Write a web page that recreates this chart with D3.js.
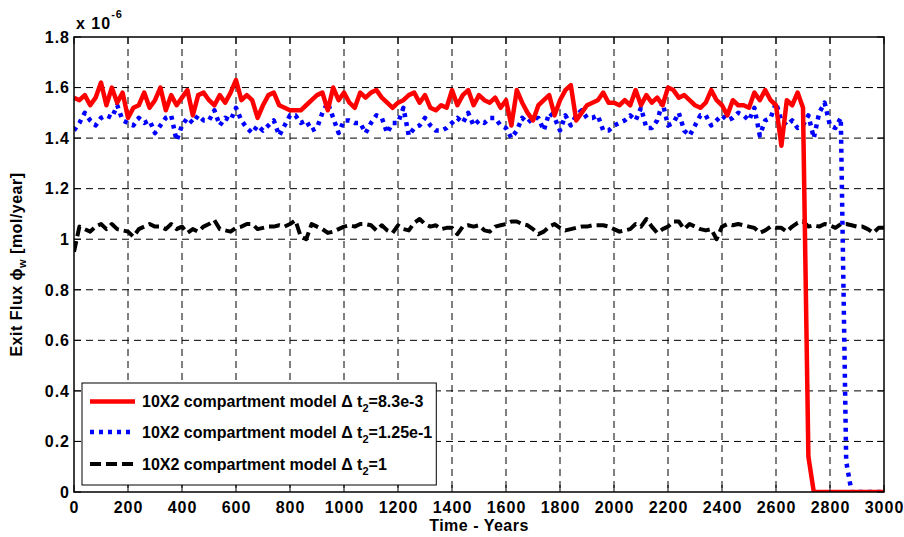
<!DOCTYPE html>
<html>
<head>
<meta charset="utf-8">
<script src="https://cdn.jsdelivr.net/npm/d3@7"></script>
<style>
  body { margin: 0; background: #fff; }
  svg { display: block; font-family: "Liberation Sans", Arial, sans-serif; font-weight: bold; }
</style>
</head>
<body>
<div id="chart"></div>
<script>
// time grid (years), values in units of 1e-6 mol/year
const years = d3.range(0, 3001, 20);

const fluxFine = [
  1.56, 1.55, 1.57, 1.53, 1.56, 1.62, 1.53, 1.60, 1.54, 1.58,
  1.48, 1.52, 1.53, 1.58, 1.52, 1.55, 1.60, 1.51, 1.57, 1.53,
  1.56, 1.59, 1.49, 1.57, 1.58, 1.55, 1.53, 1.57, 1.54, 1.58,
  1.63, 1.55, 1.57, 1.55, 1.48, 1.53, 1.57, 1.58, 1.53, 1.52,
  1.51, 1.51, 1.51, 1.53, 1.55, 1.57, 1.58, 1.51, 1.60, 1.55,
  1.58, 1.54, 1.52, 1.58, 1.56, 1.58, 1.59, 1.56, 1.54, 1.52,
  1.54, 1.55, 1.57, 1.58, 1.54, 1.57, 1.52, 1.51, 1.53, 1.52,
  1.59, 1.53, 1.57, 1.59, 1.53, 1.57, 1.55, 1.54, 1.56, 1.52,
  1.55, 1.45, 1.59, 1.54, 1.50, 1.47, 1.53, 1.55, 1.57, 1.49,
  1.55, 1.59, 1.61, 1.47, 1.50, 1.53, 1.54, 1.55, 1.58, 1.54,
  1.54, 1.53, 1.55, 1.53, 1.59, 1.53, 1.57, 1.54, 1.56, 1.53,
  1.60, 1.59, 1.56, 1.57, 1.55, 1.53, 1.52, 1.54, 1.59, 1.55,
  1.53, 1.49, 1.55, 1.53, 1.53, 1.52, 1.58, 1.55, 1.59, 1.55,
  1.53, 1.37, 1.55, 1.53, 1.58, 1.52, 0.14, 0, 0, 0,
  0, 0, 0, 0, 0, 0, 0, 0, 0, 0,
  0
];

const fluxMid = [
  1.43, 1.46, 1.50, 1.47, 1.45, 1.48, 1.49, 1.48, 1.53, 1.47,
  1.46, 1.45, 1.48, 1.46, 1.47, 1.42, 1.45, 1.48, 1.49, 1.39,
  1.45, 1.48, 1.46, 1.49, 1.47, 1.47, 1.51, 1.45, 1.48, 1.47,
  1.52, 1.47, 1.44, 1.42, 1.45, 1.43, 1.45, 1.47, 1.41, 1.45,
  1.49, 1.49, 1.46, 1.47, 1.43, 1.44, 1.50, 1.54, 1.48, 1.42,
  1.47, 1.47, 1.46, 1.46, 1.42, 1.46, 1.49, 1.48, 1.42, 1.46,
  1.46, 1.52, 1.41, 1.44, 1.45, 1.48, 1.45, 1.43, 1.43, 1.44,
  1.46, 1.48, 1.46, 1.50, 1.45, 1.47, 1.46, 1.48, 1.48, 1.45,
  1.44, 1.40, 1.43, 1.48, 1.46, 1.48, 1.48, 1.43, 1.50, 1.48,
  1.43, 1.49, 1.45, 1.49, 1.51, 1.48, 1.48, 1.49, 1.43, 1.43,
  1.45, 1.46, 1.47, 1.49, 1.47, 1.52, 1.44, 1.44, 1.47, 1.54,
  1.45, 1.46, 1.50, 1.43, 1.41, 1.45, 1.49, 1.49, 1.45, 1.47,
  1.49, 1.47, 1.48, 1.50, 1.49, 1.47, 1.52, 1.41, 1.47, 1.48,
  1.54, 1.47, 1.45, 1.47, 1.44, 1.45, 1.49, 1.40, 1.50, 1.54,
  1.45, 1.44, 1.48, 0.12, 0, 0, 0, 0, 0, 0,
  0
];

const fluxCoarse = [
  0.95, 1.05, 1.04, 1.03, 1.05, 1.06, 1.04, 1.06, 1.04, 1.035,
  1.03, 1.01, 1.04, 1.05, 1.06, 1.05, 1.05, 1.04, 1.06, 1.04,
  1.05, 1.025, 1.04, 1.03, 1.05, 1.06, 1.075, 1.04, 1.035, 1.03,
  1.045, 1.05, 1.06, 1.06, 1.04, 1.045, 1.05, 1.05, 1.055, 1.05,
  1.06, 1.075, 1.01, 1.00, 1.06, 1.05, 1.04, 1.025, 1.03, 1.04,
  1.05, 1.055, 1.05, 1.06, 1.06, 1.055, 1.035, 1.055, 1.035, 1.025,
  1.055, 1.04, 1.035, 1.065, 1.08, 1.06, 1.05, 1.055, 1.04, 1.045,
  1.045, 1.02, 1.05, 1.055, 1.05, 1.055, 1.035, 1.03, 1.05, 1.055,
  1.06, 1.07, 1.07, 1.06, 1.055, 1.04, 1.02, 1.03, 1.05, 1.06,
  1.045, 1.035, 1.04, 1.045, 1.05, 1.05, 1.055, 1.055, 1.055, 1.05,
  1.04, 1.03, 1.035, 1.04, 1.06, 1.05, 1.08, 1.05, 1.025, 1.04,
  1.05, 1.07, 1.07, 1.04, 1.06, 1.05, 1.04, 1.035, 1.04, 1.00,
  1.05, 1.06, 1.055, 1.06, 1.055, 1.05, 1.045, 1.025, 1.035, 1.05,
  1.045, 1.045, 1.03, 1.05, 1.065, 1.07, 1.05, 1.055, 1.05, 1.06,
  1.055, 1.045, 1.06, 1.06, 1.055, 1.05, 1.05, 1.04, 1.025, 1.045,
  1.045
];

const xTicks = d3.range(0, 3001, 200);
const yTicks = [0, 0.2, 0.4, 0.6, 0.8, 1, 1.2, 1.4, 1.6, 1.8];
const legendLabels = [
  { pre: "10X2 compartment model \u0394 t", sub: "2", post: "=8.3e-3" },
  { pre: "10X2 compartment model \u0394 t", sub: "2", post: "=1.25e-1" },
  { pre: "10X2 compartment model \u0394 t", sub: "2", post: "=1" }
];

const W = 904, H = 537;
const margin = { top: 37, right: 20, bottom: 45, left: 74 };
const iw = 810, ih = 455;

const svg = d3.select("#chart").append("svg")
  .attr("width", W)
  .attr("height", H);

const x = d3.scaleLinear().domain([0, 3000]).range([0, iw]);
const y = d3.scaleLinear().domain([0, 1.8]).range([ih, 0]);

const g = svg.append("g").attr("transform", `translate(${margin.left},${margin.top})`);

g.append("defs").append("clipPath").attr("id", "clip")
  .append("rect").attr("width", iw).attr("height", ih);

// grid
g.selectAll("line.vgrid")
  .data(xTicks.slice(1, -1))
  .enter().append("line")
  .attr("x1", (d) => x(d)).attr("x2", (d) => x(d))
  .attr("y1", 0).attr("y2", ih)
  .attr("stroke", "#000").attr("stroke-width", 1)
  .attr("stroke-dasharray", "7,5");

g.selectAll("line.hgrid")
  .data(yTicks.slice(1, -1))
  .enter().append("line")
  .attr("x1", 0).attr("x2", iw)
  .attr("y1", (d) => y(d)).attr("y2", (d) => y(d))
  .attr("stroke", "#000").attr("stroke-width", 1)
  .attr("stroke-dasharray", "7,5");

// series
const series = [
  { vals: fluxCoarse, color: "#000", dash: "11,5", width: 4 },
  { vals: fluxMid, color: "#0000ff", dash: "4,5", width: 4.5 },
  { vals: fluxFine, color: "#ff0000", dash: null, width: 4.5 }
];

const line = d3.line()
  .x((d) => x(d[0]))
  .y((d) => y(d[1]));

series.forEach((s) => {
  g.append("path")
    .datum(years.map((yr, i) => [yr, s.vals[i]]))
    .attr("clip-path", "url(#clip)")
    .attr("fill", "none")
    .attr("stroke", s.color)
    .attr("stroke-width", s.width)
    .attr("stroke-linejoin", "round")
    .attr("stroke-dasharray", s.dash)
    .attr("d", line);
});

// axes box
g.append("rect")
  .attr("width", iw).attr("height", ih)
  .attr("fill", "none").attr("stroke", "#000").attr("stroke-width", 1.5);

// ticks (inward, all four sides)
const tl = 7;
xTicks.forEach((t) => {
  g.append("line").attr("x1", x(t)).attr("x2", x(t)).attr("y1", ih).attr("y2", ih - tl).attr("stroke", "#000");
  g.append("line").attr("x1", x(t)).attr("x2", x(t)).attr("y1", 0).attr("y2", tl).attr("stroke", "#000");
});
yTicks.forEach((t) => {
  g.append("line").attr("x1", 0).attr("x2", tl).attr("y1", y(t)).attr("y2", y(t)).attr("stroke", "#000");
  g.append("line").attr("x1", iw).attr("x2", iw - tl).attr("y1", y(t)).attr("y2", y(t)).attr("stroke", "#000");
});

// tick labels
g.selectAll("text.xt")
  .data(xTicks)
  .enter().append("text")
  .attr("x", (d) => x(d) + 0.5)
  .attr("y", ih + 21)
  .attr("text-anchor", "middle")
  .style("font-size", "16px")
  .style("letter-spacing", "1px")
  .text((d) => d);

g.selectAll("text.yt")
  .data(yTicks)
  .enter().append("text")
  .attr("x", -4)
  .attr("y", (d) => y(d))
  .attr("dy", "0.36em")
  .attr("text-anchor", "end")
  .style("font-size", "16px")
  .style("letter-spacing", "1px")
  .text((d) => (Number.isInteger(d) ? d : d.toFixed(1)));

// exponent
const ex = svg.append("text").attr("x", 76).attr("y", 29)
  .style("font-size", "16px").style("letter-spacing", "1px");
ex.append("tspan").text("x 10");
ex.append("tspan").attr("dy", -11).style("font-size", "11px").text("-6");

// axis labels
svg.append("text")
  .attr("x", margin.left + iw / 2)
  .attr("y", 531)
  .attr("text-anchor", "middle")
  .style("font-size", "16px")
  .style("letter-spacing", "0.5px")
  .text("Time - Years");

const yl = svg.append("text")
  .attr("transform", `translate(22,${margin.top + ih / 2}) rotate(-90)`)
  .attr("text-anchor", "middle")
  .style("font-size", "16px")
  .style("letter-spacing", "0.5px");
yl.append("tspan").text("Exit Flux \u03d5");
yl.append("tspan").attr("dy", 4).style("font-size", "11px").text("w");
yl.append("tspan").attr("dy", -4).text(" [mol/year]");

// legend
const lg = g.append("g").attr("transform", "translate(8,346)");
const lgBox = lg.append("rect").attr("fill", "#fff").attr("stroke", "#000").attr("stroke-width", 1);
const rowY = [18.5, 49, 81];
legendLabels.forEach((lab, i) => {
  const s = series[2 - i];
  lg.append("line")
    .attr("x1", 8).attr("x2", 53)
    .attr("y1", rowY[i]).attr("y2", rowY[i])
    .attr("stroke", s.color)
    .attr("stroke-width", s.width)
    .attr("stroke-dasharray", s.dash);
  const t = lg.append("text")
    .attr("x", 60)
    .attr("y", rowY[i])
    .attr("dy", "0.36em")
    .style("font-size", "16px");
  t.append("tspan").text(lab.pre);
  t.append("tspan").attr("dy", 5).style("font-size", "11px").text(lab.sub);
  t.append("tspan").attr("dy", -5).text(lab.post);
});
const bb = lg.node().getBBox();
lgBox.attr("x", 0).attr("y", 0).attr("width", bb.width + 12).attr("height", 102);
</script>
</body>
</html>
